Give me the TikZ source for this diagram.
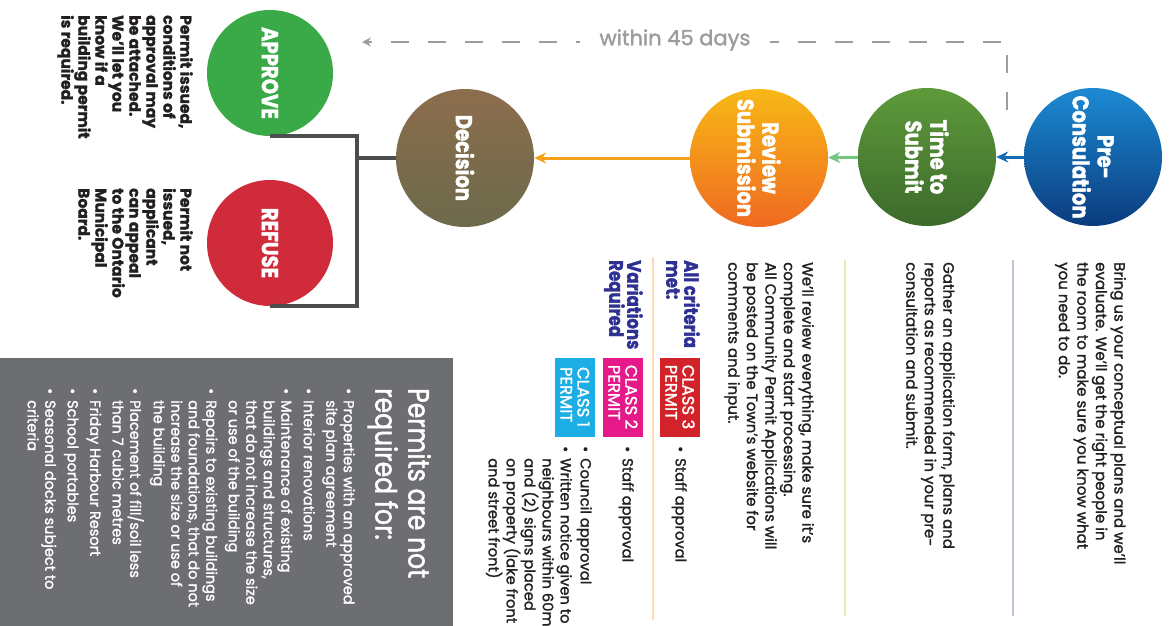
\documentclass[tikz,border=0pt]{standalone}
\usepackage{fontspec}
\setmainfont{Poppins}[FakeBold=1.5]
\newfontfamily\cond{Poppins}[FakeStretch=0.85, FakeBold=1.5]
\usetikzlibrary{arrows.meta, positioning}
\definecolor{ink}{HTML}{231F20}
\definecolor{navy}{HTML}{2E3192}
\definecolor{boxgray}{HTML}{6D6E71}
\definecolor{conngray}{HTML}{4D4D4F}
\definecolor{dashgray}{HTML}{9C9C9C}
\definecolor{pretop}{HTML}{1C8AD3}
\definecolor{prebot}{HTML}{0B3C7E}
\definecolor{subtop}{HTML}{5E9A3A}
\definecolor{subbot}{HTML}{3C6A2C}
\definecolor{revtop}{HTML}{F8B817}
\definecolor{revbot}{HTML}{EF6A21}
\definecolor{dectop}{HTML}{8C6D4D}
\definecolor{decbot}{HTML}{6C6A4B}
\definecolor{appgreen}{HTML}{3AAA48}
\definecolor{refred}{HTML}{CF2B3B}
\definecolor{c3red}{HTML}{D2232A}
\definecolor{c2pink}{HTML}{E5198A}
\definecolor{c1cyan}{HTML}{1CAEE4}
\newcommand{\bul}{\makebox[12pt][l]{\textbullet}}
\newcommand{\ind}{\hspace*{12pt}}

\begin{document}
\begin{tikzpicture}[x=1pt, y=-1pt,
  stg/.style={circle, minimum size=138pt, inner sep=0pt, rotate=-90, text=white, align=center, font=\cond\bfseries\fontsize{23}{25}\selectfont},
  dsc/.style={rotate=-90, anchor=north west, inner sep=0pt, align=left, text=ink, font=\fontsize{15}{18.5}\selectfont},
  sml/.style={dsc, font=\fontsize{14.7}{18}\selectfont},
  crit/.style={dsc, text=navy, font=\cond\bfseries\fontsize{19.5}{18}\selectfont},
  permit/.style={rotate=-90, minimum width=79pt, minimum height=40pt, inner sep=0pt, align=left, text=white, font=\fontsize{16.5}{17}\selectfont},
  conn/.style={conngray, line width=4pt},
  arr/.style={line width=3pt, -{Stealth[length=12pt, width=11pt]}}]
\useasboundingbox (0,0) rectangle (1170,626);

\node[stg, top color=pretop, bottom color=prebot] (pre) at (1093,157) {Pre-\\Consulation};
\node[stg, top color=subtop, bottom color=subbot] (sub) at (927,157) {Time to\\Submit};
\node[stg, top color=revtop, bottom color=revbot] (rev) at (759,158) {Review\\Submission};
\node[stg, top color=dectop, bottom color=decbot] (dec) at (465,158) {Decision};
\node[stg, minimum size=126pt, fill=appgreen] (app) at (270,73) {APPROVE};
\node[stg, minimum size=126pt, fill=refred] (ref) at (270,243) {REFUSE};

\draw[arr, pretop!60!prebot] (pre) -- (sub);
\draw[arr, appgreen!70!white] (sub) -- (rev);
\draw[arr, revtop!70!revbot] (rev) -- (dec);

\coordinate (fork) at (357,158);
\draw[conn] (dec) -- (fork);
\draw[conn] (app.east) -| (fork);
\draw[conn] (ref.east) -| (fork);

\coordinate (dstart) at (1007,110);
\coordinate (dend) at (362,42);
\draw[dashgray, line width=2pt, dash pattern=on 18pt off 19pt, -{Stealth[length=9pt, width=9pt]}] (dstart) |- (dend);
\node[fill=white, inner xsep=20pt, text=dashgray, font=\fontsize{21}{23}\selectfont] (days) at (675,40) {within 45 days};

\draw[blue!20!gray!40, line width=1.5pt] (1013,260) -- (1013,616);
\draw[yellow!50!green!30, line width=1.5pt] (845,260) -- (845,616);
\draw[orange!30, line width=1.5pt] (653,257) -- (653,620);

\node[dsc] (predsc) at (1126,262) {Bring us your conceptual plans and we'll\\evaluate. We'll get the right people in\\the room to make sure you know what\\you need to do.};
\node[dsc] (subdsc) at (955,262) {Gather an application form, plans and\\reports as recommended in your pre-\\consultation and submit.};
\node[dsc] (revdsc) at (814,262) {We'll review everything, make sure it's\\complete and start processing.\\All Community Permit Applications will\\be posted on the Town's website for\\comments and input.};

\node[crit] (met) at (700,260) {All criteria\\met:};
\node[crit] (var) at (643,260) {Variations\\Required};

\node[permit, fill=c3red] (c3) at (680,397) {CLASS 3\\PERMIT};
\node[permit, fill=c2pink] (c2) at (623,397) {CLASS 2\\PERMIT};
\node[permit, fill=c1cyan] (c1) at (575,397) {CLASS 1\\PERMIT};

\node[sml] (c3dsc) at (687,446) {\bul Staff approval};
\node[sml] (c2dsc) at (634,446) {\bul Staff approval};
\node[sml] (c1dsc) at (592,446) {\bul Council approval\\[2pt]\bul Written notice given to\\\ind neighbours within 60m\\\ind and (2) signs placed\\\ind on property (lake front\\\ind and street front)};

\node[dsc, font=\bfseries\fontsize{15.5}{17}\selectfont] (appdsc) at (193,15) {Permit issued,\\conditions of\\approval may\\be attached.\\We'll let you\\know if a\\building permit\\is required.};
\node[dsc, font=\bfseries\fontsize{15.5}{17}\selectfont] (refdsc) at (193,188) {Permit not\\issued,\\applicant\\can appeal\\to the Ontario\\Municipal\\Board.};

\fill[boxgray] (0,358) rectangle (453,626);
\node[dsc, text=white, font=\cond\fontsize{29.5}{33}\selectfont] (title) at (431,388) {Permits are not\\required for:};
\node[dsc, text=white, font=\fontsize{14.5}{17.5}\selectfont] (list) at (355,388) {\bul Properties with an approved\\\ind site plan agreement\\[5pt]\bul Interior renovations\\[5pt]\bul Maintenance of existing\\\ind buildings and structures,\\\ind that do not increase the size\\\ind or use of the building\\[5pt]\bul Repairs to existing buildings\\\ind and foundations, that do not\\\ind increase the size or use of\\\ind the building\\[5pt]\bul Placement of fill/soil less\\\ind than 7 cubic metres\\[5pt]\bul Friday Harbour Resort\\[5pt]\bul School portables\\[5pt]\bul Seasonal docks subject to\\\ind criteria};
\end{tikzpicture}
\end{document}
